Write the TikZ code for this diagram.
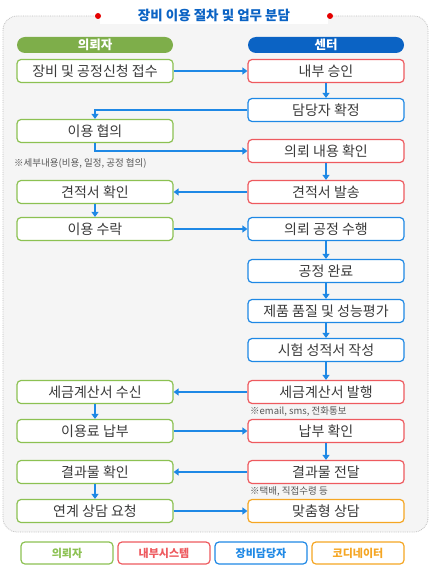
\documentclass[tikz,border=0pt]{standalone}
\usepackage{fontspec}
\setmainfont{Noto Sans CJK KR}
\usetikzlibrary{arrows.meta,positioning}
\definecolor{cgreen}{HTML}{8CC152}
\definecolor{cred}{HTML}{EE5A5F}
\definecolor{cblue}{HTML}{1E88E5}
\definecolor{corange}{HTML}{F5A623}
\definecolor{cdark}{HTML}{0B63C4}
\definecolor{ctext}{HTML}{3A3A3A}
\definecolor{cbg}{HTML}{F5F5F5}
\tikzset{
  every node/.style={font=\fontsize{14}{16}\selectfont, text=ctext, inner sep=0pt},
  box/.style={draw, line width=1.2pt, rounded corners=4pt, fill=white, minimum width=156pt, minimum height=23pt},
  gbox/.style={box, draw=cgreen},
  rbox/.style={box, draw=cred},
  bbox/.style={box, draw=cblue},
  obox/.style={box, draw=corange},
  head/.style={rounded corners=8pt, minimum width=156pt, minimum height=16pt, font=\bfseries\fontsize{12.5}{14}\selectfont, text=white},
  note/.style={font=\fontsize{9.5}{11}\selectfont, text=ctext!85, anchor=west},
  leg/.style={draw, line width=1.2pt, rounded corners=4pt, fill=white, minimum width=92pt, minimum height=22pt, font=\bfseries\fontsize{11}{13}\selectfont},
  arr/.style={draw=cblue, line width=1.6pt, -{Triangle[width=7pt,length=5pt]}},
}
\begin{document}
\begin{tikzpicture}[x=1pt,y=-1pt]
\useasboundingbox (0,0) rectangle (433,569);
% outer box
\draw[fill=cbg, draw=black!25, densely dotted, line width=0.8pt, rounded corners=14pt] (3,16) rectangle (428,532);
\fill[white] (100,8) rectangle (328,24);
\fill[red!90!black] (98,16) circle (3pt);
\fill[red!90!black] (330,16) circle (3pt);
\node[font=\bfseries\fontsize{13.5}{15}\selectfont, text=cdark] (title) at (214,15) {장비 이용 절차 및 업무 분담};
% headers
\node[head, fill=cgreen!90!black] (hL) at (95,45) {의뢰자};
\node[head, fill=cdark] (hR) at (326,45) {센터};
% left column
\node[gbox] (L1) at (95,71) {장비 및 공정신청 접수};
\node[gbox] (L3) at (95,131) {이용 협의};
\node[gbox] (L5) at (95,192) {견적서 확인};
\node[gbox] (L6) at (95,229) {이용 수락};
\node[gbox] (L10) at (95,392) {세금계산서 수신};
\node[gbox] (L11) at (95,431) {이용료 납부};
\node[gbox] (L12) at (95,472) {결과물 확인};
\node[gbox] (L13) at (95,511) {연계 상담 요청};
% right column
\node[rbox] (R1) at (326,71) {내부 승인};
\node[bbox] (R2) at (326,110) {담당자 확정};
\node[rbox] (R4) at (326,151) {의뢰 내용 확인};
\node[rbox] (R5) at (326,192) {견적서 발송};
\node[bbox] (R6) at (326,229) {의뢰 공정 수행};
\node[bbox] (R7) at (326,271) {공정 완료};
\node[bbox] (R8) at (326,311) {제품 품질 및 성능평가};
\node[bbox] (R9) at (326,350) {시험 성적서 작성};
\node[rbox] (R10) at (326,392) {세금계산서 발행};
\node[rbox] (R11) at (326,431) {납부 확인};
\node[rbox] (R12) at (326,472) {결과물 전달};
\node[obox] (R13) at (326,511) {맞춤형 상담};
% notes
\node[note] (n1) at (14,163) {※세부내용(비용, 일정, 공정 협의)};
\node[note] (n2) at (250,411) {※email, sms, 전화통보};
\node[note] (n3) at (250,491) {※택배, 직접수령 등};
% arrows
\draw[arr] (L1) -- (R1);
\draw[arr] (R1) -- (R2);
\draw[arr] (R2.west) -| (L3.north);
\draw[arr] (L3.south) |- (R4.west);
\draw[arr] (R4) -- (R5);
\draw[arr] (R5) -- (L5);
\draw[arr] (L5) -- (L6);
\draw[arr] (L6) -- (R6);
\draw[arr] (R6) -- (R7);
\draw[arr] (R7) -- (R8);
\draw[arr] (R8) -- (R9);
\draw[arr] (R9) -- (R10);
\draw[arr] (R10) -- (L10);
\draw[arr] (L10) -- (L11);
\draw[arr] (L11) -- (R11);
\draw[arr] (R11) -- (R12);
\draw[arr] (R12) -- (L12);
\draw[arr] (L12) -- (L13);
\draw[arr] (L13) -- (R13);
% legend
\node[leg, draw=cgreen, text=cgreen] (g1) at (67,553) {의뢰자};
\node[leg, draw=cred, text=cred] (g2) at (164,553) {내부시스템};
\node[leg, draw=cblue, text=cblue] (g3) at (261,553) {장비담당자};
\node[leg, draw=corange, text=corange] (g4) at (358,553) {코디네이터};
\end{tikzpicture}
\end{document}
